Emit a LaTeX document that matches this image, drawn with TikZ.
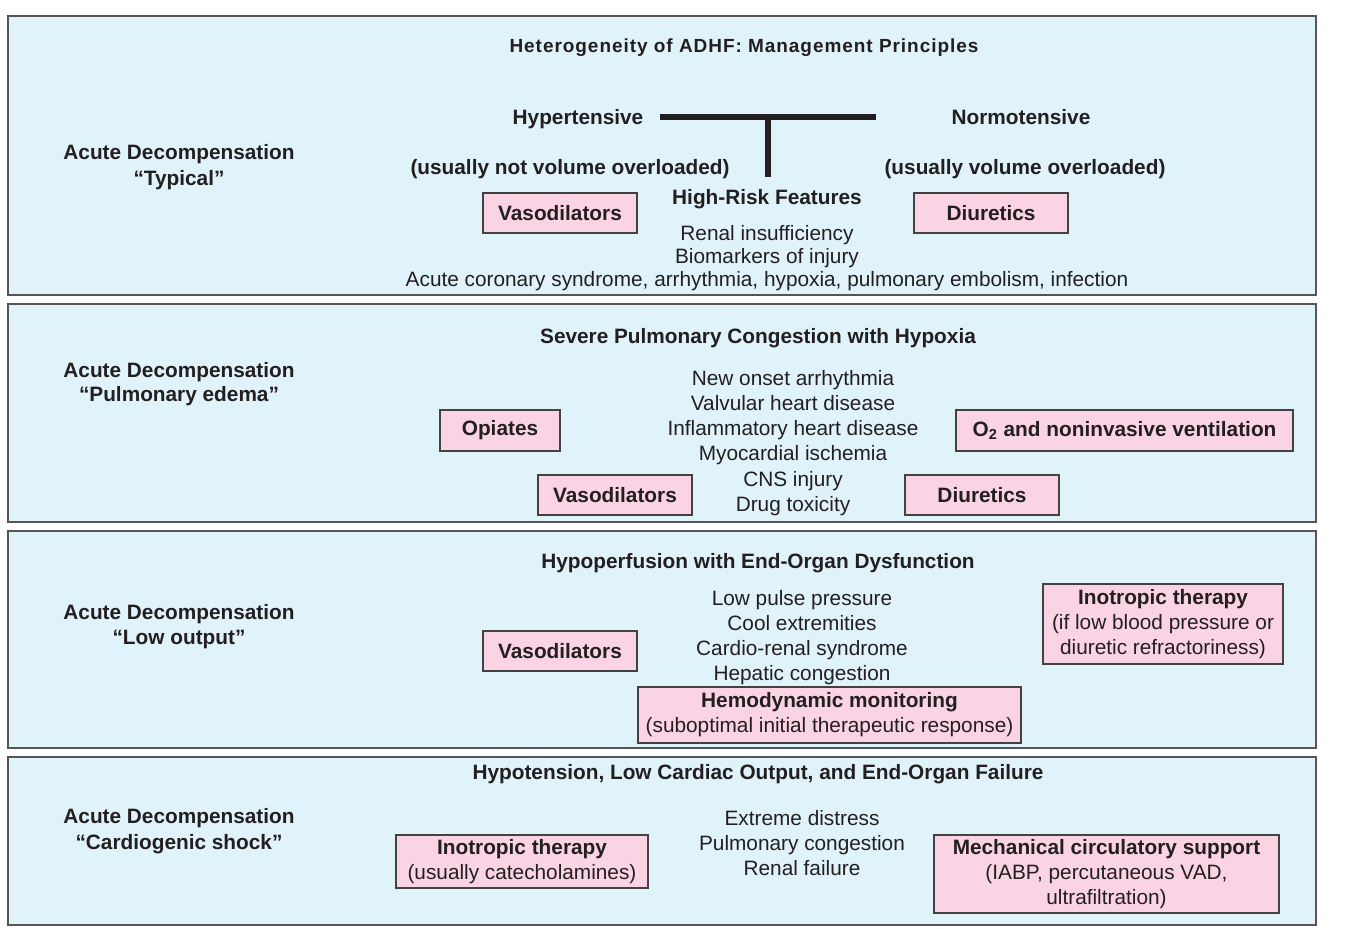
\documentclass[tikz,border=0pt]{standalone}
\usepackage{fontspec}
\setmainfont{Liberation Sans}
\definecolor{panelfill}{HTML}{E0F3FA}
\definecolor{panelline}{HTML}{555555}
\definecolor{pinkfill}{HTML}{FAD4E4}
\definecolor{ink}{HTML}{231F20}
\tikzset{
  every node/.style={text=ink, font=\fontsize{10.4}{12.6}\selectfont, inner sep=0pt},
  panel/.style={draw=panelline, fill=panelfill, line width=1pt, rectangle},
  pinkbox/.style={draw=ink!85, fill=pinkfill, line width=0.75pt, rectangle, align=center},
  bold/.style={font=\fontsize{10.4}{12.6}\selectfont\bfseries},
  lbl/.style={yshift=-1pt},
  plain/.style={align=center, yshift=-1pt},
  tbar/.style={line width=3pt, draw=ink}
}
\begin{document}
\begin{tikzpicture}[x=0.5pt, y=-0.5pt]
\useasboundingbox (0,0) rectangle (1357,929);
% panels
\node[panel, minimum width=654pt, minimum height=139.5pt] (p1) at (662,155.5) {};
\node[panel, minimum width=654pt, minimum height=109pt] (p2) at (662,413) {};
\node[panel, minimum width=654pt, minimum height=108.5pt] (p3) at (662,639.5) {};
\node[panel, minimum width=654pt, minimum height=84pt] (p4) at (662,841) {};

% ---- panel 1
\node[lbl, font=\fontsize{9.5}{11}\selectfont\bfseries\addfontfeature{LetterSpace=5}] (t1) at (744,46) {Heterogeneity of ADHF: Management Principles};
\node[lbl, align=center, font=\fontsize{10.4}{13}\selectfont\bfseries] (l1) at (179,165) {Acute Decompensation\\“Typical”};
\node[lbl, bold] (hyper) at (578,117) {Hypertensive};
\node[lbl, bold] (normo) at (1021,115) {Normotensive};
\node[lbl, bold] (hyperv) at (570,167) {(usually not volume overloaded)};
\node[lbl, bold] (normov) at (1025,167) {(usually volume overloaded)};
\coordinate (tl) at (660,117);
\coordinate (tr) at (876,117);
\coordinate (tm) at (768,117);
\coordinate (tb) at (768,177);
\draw[tbar] (tl) -- (tr);
\draw[tbar] (tm) -- (tb);
\node[lbl, bold] (hrf) at (767,197) {High-Risk Features};
\node[pinkbox, bold, minimum width=77pt, minimum height=20pt] (vaso1) at (560,213) {Vasodilators};
\node[pinkbox, bold, minimum width=77pt, minimum height=20pt] (diur1) at (991,213) {Diuretics};
\node[plain, font=\fontsize{10.4}{11.5}\selectfont] (hrl) at (767,256) {Renal insufficiency\\Biomarkers of injury\\Acute coronary syndrome, arrhythmia, hypoxia, pulmonary embolism, infection};

% ---- panel 2
\node[lbl, bold] (t2) at (758,336) {Severe Pulmonary Congestion with Hypoxia};
\node[lbl, align=center, font=\fontsize{10.4}{12.2}\selectfont\bfseries] (l2) at (179,382) {Acute Decompensation\\“Pulmonary edema”};
\node[plain] (list2) at (793,441) {New onset arrhythmia\\Valvular heart disease\\Inflammatory heart disease\\Myocardial ischemia\\CNS injury\\Drug toxicity};
\node[pinkbox, bold, minimum width=60pt, minimum height=20.5pt] (opi) at (500,430.5) {Opiates};
\node[pinkbox, bold, minimum width=168.5pt, minimum height=20.5pt] (o2) at (1124.5,430.5) {O\textsubscript{2} and noninvasive ventilation};
\node[pinkbox, bold, minimum width=77pt, minimum height=20pt] (vaso2) at (615,495) {Vasodilators};
\node[pinkbox, bold, minimum width=77pt, minimum height=20pt] (diur2) at (982,495) {Diuretics};

% ---- panel 3
\node[lbl, bold] (t3) at (758,561) {Hypoperfusion with End-Organ Dysfunction};
\node[lbl, align=center, font=\fontsize{10.4}{12.5}\selectfont\bfseries] (l3) at (179,624.5) {Acute Decompensation\\“Low output”};
\node[plain] (list3) at (802,635.5) {Low pulse pressure\\Cool extremities\\Cardio-renal syndrome\\Hepatic congestion};
\node[pinkbox, bold, minimum width=77pt, minimum height=20pt] (vaso3) at (560,651) {Vasodilators};
\node[pinkbox, minimum width=120pt, minimum height=40pt] (ino3) at (1163,624) {\textbf{Inotropic therapy}\\(if low blood pressure or\\diuretic refractoriness)};
\node[pinkbox, minimum width=191.5pt, minimum height=28pt] (hemo) at (829.5,715) {\textbf{Hemodynamic monitoring}\\(suboptimal initial therapeutic response)};

% ---- panel 4
\node[lbl, bold] (t4) at (758,772) {Hypotension, Low Cardiac Output, and End-Organ Failure};
\node[lbl, align=center, font=\fontsize{10.4}{13}\selectfont\bfseries] (l4) at (179,829) {Acute Decompensation\\“Cardiogenic shock”};
\node[plain] (list4) at (802,841) {Extreme distress\\Pulmonary congestion\\Renal failure};
\node[pinkbox, minimum width=126pt, minimum height=26.5pt] (ino4) at (522,861.5) {\textbf{Inotropic therapy}\\(usually catecholamines)};
\node[pinkbox, minimum width=172.5pt, minimum height=39pt] (mcs) at (1106.5,874) {\textbf{Mechanical circulatory support}\\(IABP, percutaneous VAD,\\ultrafiltration)};
\end{tikzpicture}
\end{document}
